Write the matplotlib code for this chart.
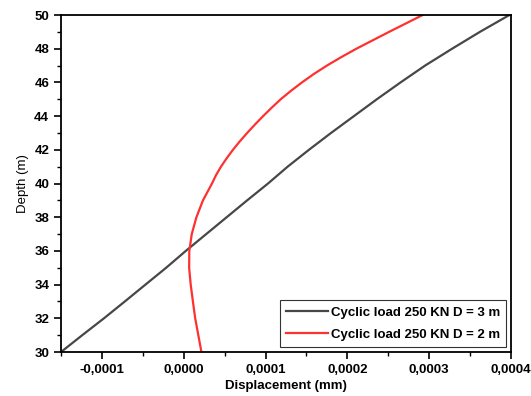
import matplotlib
matplotlib.use('Agg')
import matplotlib.pyplot as plt
from matplotlib.ticker import MultipleLocator, FuncFormatter

plt.rcParams['font.family'] = ['Liberation Sans', 'DejaVu Sans']

# D = 3 m
depth_d3 = [30, 31, 32, 33, 34, 35, 36, 37, 38, 39, 40, 41, 42, 43, 44, 45, 46, 47, 48, 49, 50]
disp_d3 = [-0.000150, -0.000124, -0.0000975, -0.000072, -0.0000468, -0.0000215, 0.0000025,
           0.0000275, 0.0000525, 0.0000775, 0.000103, 0.000127, 0.000153, 0.000180, 0.000208,
           0.000236, 0.000265, 0.000295, 0.000328, 0.000362, 0.000398]

# D = 2 m
depth_d2 = [30, 31, 32, 33, 34, 35, 36, 37, 38, 39, 40, 40.5, 41, 41.5, 42, 42.5, 43, 43.5,
            44, 44.5, 45, 45.5, 46, 46.5, 47, 47.5, 48, 48.5, 49, 49.5, 50]
disp_d2 = [0.0000216, 0.0000178, 0.000014, 0.0000112, 0.0000085, 0.0000066, 0.0000068,
           0.0000098, 0.0000155, 0.0000235, 0.0000345, 0.0000395, 0.0000455, 0.0000525,
           0.0000601, 0.0000685, 0.0000775, 0.000087, 0.000097, 0.0001075, 0.0001185,
           0.000131, 0.0001445, 0.000159, 0.000175, 0.0001925, 0.000211, 0.000231,
           0.000251, 0.0002715, 0.000292]

labels = ['Cyclic load 250 KN D = 3 m', 'Cyclic load 250 KN D = 2 m']

fig = plt.figure(figsize=(5.31, 3.96), dpi=100)
ax = fig.add_axes([0.1149, 0.1111, 0.8475, 0.851])

ax.plot(disp_d3, depth_d3, color='#474747', lw=1.6, label=labels[0])
ax.plot(disp_d2, depth_d2, color='#ff3030', lw=1.6, label=labels[1])

ax.set_xlim(-0.00015, 0.0004)
ax.set_ylim(30, 50)

ax.xaxis.set_major_locator(MultipleLocator(0.0001))
ax.xaxis.set_minor_locator(MultipleLocator(0.00005))
ax.yaxis.set_major_locator(MultipleLocator(2))
ax.yaxis.set_minor_locator(MultipleLocator(1))
ax.xaxis.set_major_formatter(FuncFormatter(lambda v, p: ('%.4f' % v).replace('.', ',') if abs(v) > 1e-12 else '0,0000'))

ax.tick_params(which='major', direction='out', length=5, width=1.2, labelsize=9.5)
ax.tick_params(which='minor', direction='out', length=3, width=1.0)
for lab in ax.get_xticklabels() + ax.get_yticklabels():
    lab.set_fontweight('bold')
for s in ax.spines.values():
    s.set_linewidth(1.3)

ax.set_xlabel('Displacement (mm)', fontsize=9.5, fontweight='bold', labelpad=3)
ax.set_ylabel('Depth (m)', fontsize=9.5, labelpad=4)

leg = ax.legend(loc='lower right', prop={'weight': 'bold', 'size': 9.5},
                frameon=True, fancybox=False, edgecolor='black', handlelength=3.2,
                handletextpad=0.2, borderpad=0.45, labelspacing=0.75, borderaxespad=0.4)
leg.get_frame().set_linewidth(0.8)

fig.savefig('out.png', dpi=100)
